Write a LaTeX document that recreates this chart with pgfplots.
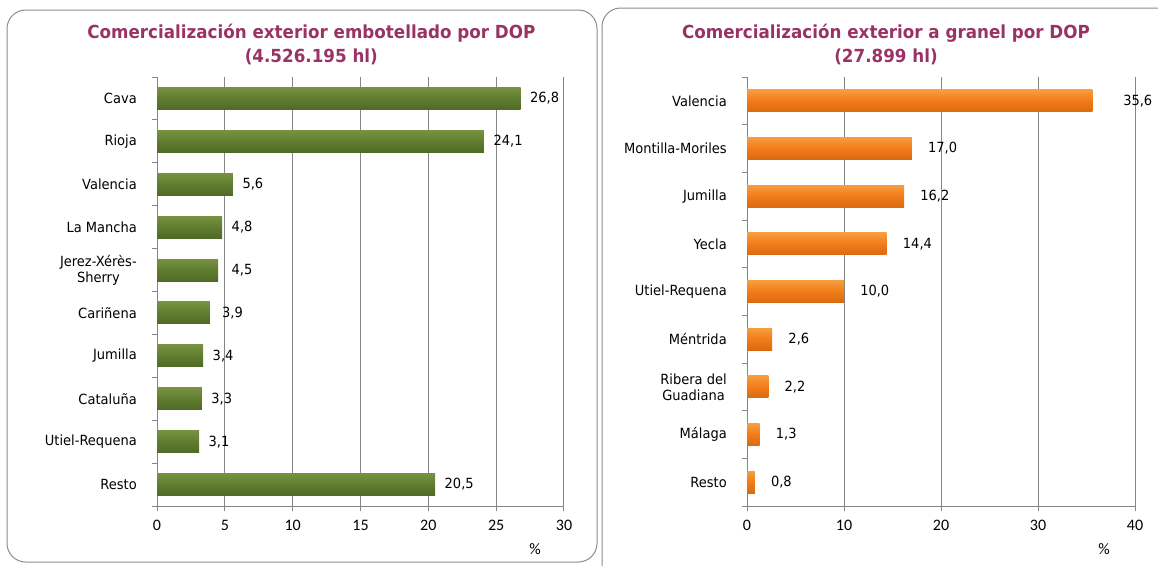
\documentclass[border=0pt]{standalone}
\usepackage{fontspec}
\setmainfont{DejaVu Sans}[FakeStretch=0.93]
\newfontfamily\calib{Carlito}
\usepackage{pgfplots}
\pgfplotsset{compat=1.18}

\definecolor{titlec}{RGB}{153,51,102}
\definecolor{gridc}{RGB}{134,134,134}
\definecolor{framec}{RGB}{140,140,140}
\definecolor{gtop}{RGB}{118,146,64}
\definecolor{gmid}{RGB}{96,124,48}
\definecolor{gbot}{RGB}{80,106,38}
\definecolor{otop}{RGB}{248,156,64}
\definecolor{omid}{RGB}{241,124,24}
\definecolor{obot}{RGB}{218,106,16}

% px -> pt: 0.75
\pgfplotsset{
  dop/.style={
    scale only axis, anchor=south west, height=321.75pt,
    axis lines*=left, axis line style={gridc, line width=0.75pt},
    xmajorgrids, grid style={gridc, line width=0.75pt},
    tick align=outside, tick style={gridc, line width=0.75pt},
    major tick length=3.75pt,
    y dir=reverse, xmin=0,
    xtick pos=bottom, ytick pos=left,
    yticklabels={,},
    extra y tick style={major tick length=0pt},
    xticklabel style={font=\calib\fontsize{12}{14}\selectfont, inner sep=0pt, yshift=-7pt},
    yticklabel style={font=\fontsize{10.5}{12}\selectfont, align=center, inner sep=0pt, xshift=-15pt},
    /pgf/number format/assume math mode=true,
    point meta=x,
    nodes near coords,
    nodes near coords style={font=\fontsize{10.5}{12}\selectfont, inner sep=0pt, anchor=west,
      /pgf/number format/fixed, /pgf/number format/fixed zerofill,
      /pgf/number format/precision=1, /pgf/number format/use comma},
    clip=false,
  },
  gbar/.style={xbar, bar shift=0pt, bar width=16.5pt, draw=none,
    top color=gtop, bottom color=gbot, middle color=gmid,
    every node near coord/.append style={xshift=7pt}},
  obar/.style={xbar, bar shift=0pt, bar width=16.5pt, draw=none,
    top color=otop, bottom color=obot, middle color=omid,
    every node near coord/.append style={xshift=12pt}},
}

\begin{document}
\begin{tikzpicture}[x=1pt,y=1pt]
\useasboundingbox (0,0) rectangle (868.5,-423.75);
\draw[framec, line width=0.75pt, rounded corners=14pt] (5.25,-7.5) rectangle (447.75,-421.5);
\draw[framec, line width=0.75pt, rounded corners=14pt] (451.5,-6) rectangle (885,-440);

\node[font=\bfseries\fontsize{13.5}{16}\selectfont, text=titlec] at (233.5,-24.75) {Comercialización exterior embotellado por DOP};
\node[font=\bfseries\fontsize{13.5}{16}\selectfont, text=titlec] at (233.5,-42.75) {(4.526.195 hl)};
\node[font=\bfseries\fontsize{13.5}{16}\selectfont, text=titlec] at (664.5,-24.75) {Comercialización exterior a granel por DOP};
\node[font=\bfseries\fontsize{13.5}{16}\selectfont, text=titlec] at (664.5,-42.75) {(27.899 hl)};

\begin{axis}[dop, at={(117.75pt,-379.5pt)}, width=305.25pt,
  xmax=30, xtick={0,5,...,30},
  ymin=-0.5, ymax=9.5, ytick={-0.5,0.5,...,9.5},
  extra y ticks={0,...,9},
  extra y tick labels={Cava,Rioja,Valencia,La Mancha,{Jerez-Xérès-\\Sherry},Cariñena,Jumilla,Cataluña,Utiel-Requena,Resto},
]
\addplot[gbar] coordinates {(26.8,0)};
\addplot[gbar] coordinates {(24.1,1)};
\addplot[gbar] coordinates {(5.6,2)};
\addplot[gbar] coordinates {(4.8,3)};
\addplot[gbar, every node near coord/.append style={xshift=3pt}] coordinates {(4.5,4)};
\addplot[gbar, every node near coord/.append style={xshift=2pt}] coordinates {(3.9,5)};
\addplot[gbar] coordinates {(3.4,6)};
\addplot[gbar] coordinates {(3.3,7)};
\addplot[gbar] coordinates {(3.1,8)};
\addplot[gbar] coordinates {(20.5,9)};
\end{axis}

\begin{axis}[dop, at={(560.25pt,-379.5pt)}, width=291pt,
  xmax=40, xtick={0,10,...,40},
  ymin=-0.5, ymax=8.5, ytick={-0.5,0.5,...,8.5},
  extra y ticks={0,...,8},
  extra y tick labels={Valencia,Montilla-Moriles,Jumilla,Yecla,Utiel-Requena,Méntrida,{Ribera del\\Guadiana},Málaga,Resto},
]
\addplot[obar, every node near coord/.append style={xshift=11pt}] coordinates {(35.6,0)};
\addplot[obar] coordinates {(17.0,1)};
\addplot[obar] coordinates {(16.2,2)};
\addplot[obar] coordinates {(14.4,3)};
\addplot[obar] coordinates {(10.0,4)};
\addplot[obar] coordinates {(2.6,5)};
\addplot[obar] coordinates {(2.2,6)};
\addplot[obar] coordinates {(1.3,7)};
\addplot[obar] coordinates {(0.8,8)};
\end{axis}

\node[font=\calib\fontsize{12}{14}\selectfont] at (401.25,-411.75) {\%};
\node[font=\calib\fontsize{12}{14}\selectfont] at (828,-411.75) {\%};
\end{tikzpicture}
\end{document}
